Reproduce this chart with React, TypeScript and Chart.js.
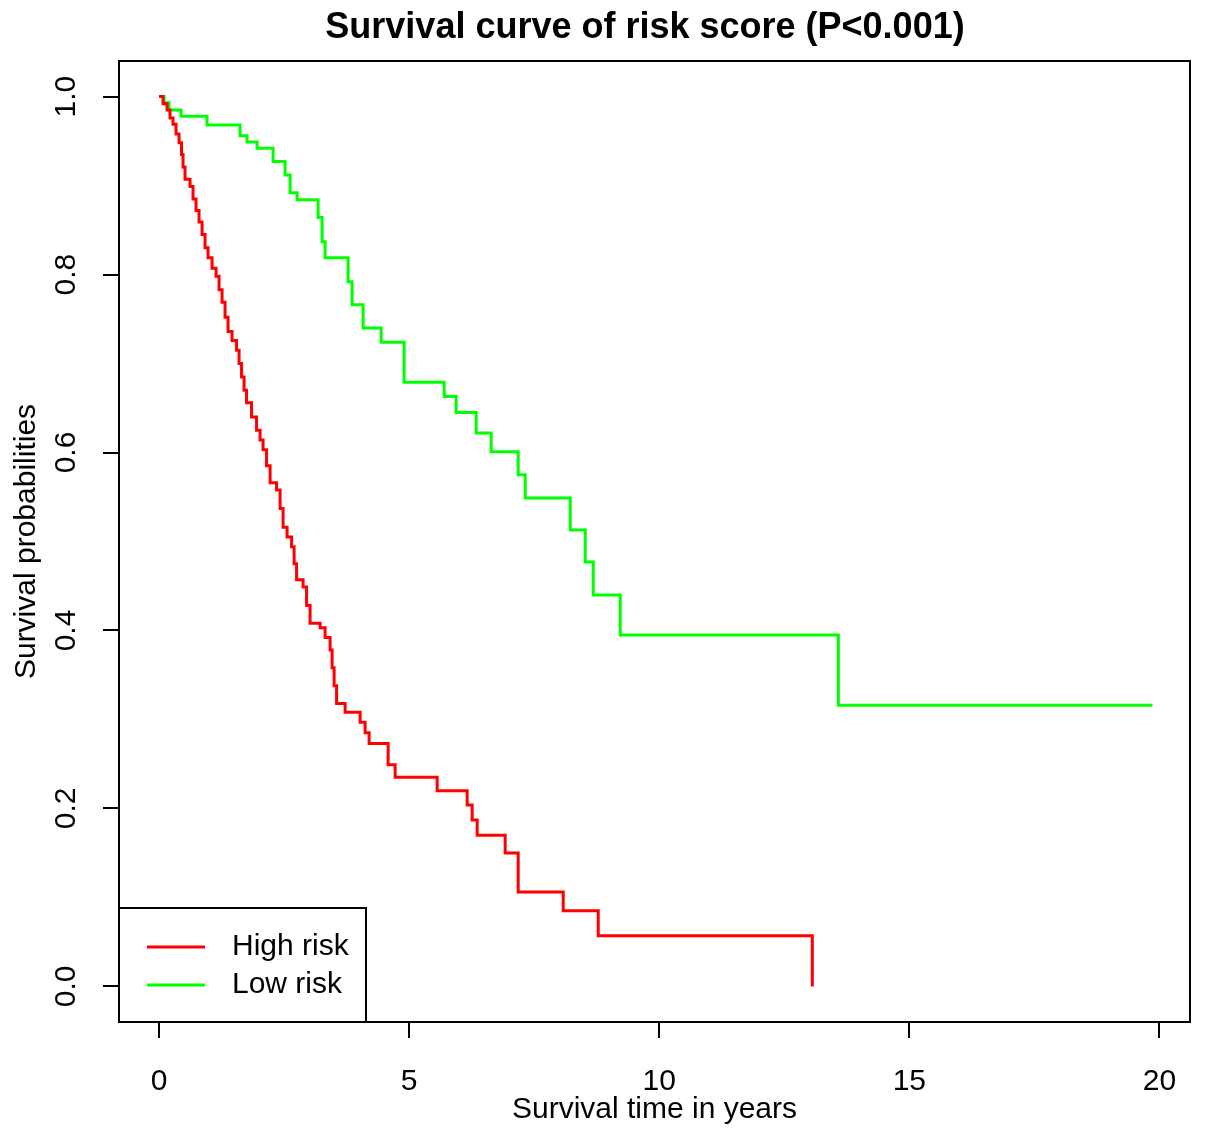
import React, { useEffect, useRef } from 'react';
import { Chart, registerables } from 'chart.js';

Chart.register(...registerables);

// ---- data ----
const highTimes = [
  0, 0.08, 0.16, 0.22, 0.28, 0.34, 0.4, 0.45, 0.48, 0.52, 0.62, 0.68, 0.74, 0.8, 0.86, 0.92, 0.98,
  1.06, 1.14, 1.2, 1.26, 1.32, 1.38, 1.46, 1.55, 1.6, 1.65, 1.7, 1.75, 1.85, 1.95, 2.02, 2.08,
  2.15, 2.22, 2.35, 2.42, 2.48, 2.56, 2.65, 2.7, 2.75, 2.88, 2.95, 3.02, 3.22, 3.32, 3.42, 3.46,
  3.5, 3.55, 3.72, 4.02, 4.12, 4.2, 4.58, 4.72, 5.56, 6.16, 6.26, 6.36, 6.92, 7.18, 8.08, 8.78, 13.06,
];
const highSurv = [
  1.0, 0.992, 0.985, 0.976, 0.969, 0.958, 0.948, 0.935, 0.921, 0.907, 0.899, 0.885, 0.872, 0.859, 0.845, 0.83, 0.819,
  0.807, 0.798, 0.783, 0.769, 0.752, 0.736, 0.726, 0.715, 0.7, 0.685, 0.67, 0.656, 0.64, 0.625, 0.614, 0.603,
  0.585, 0.566, 0.558, 0.537, 0.516, 0.505, 0.494, 0.475, 0.457, 0.449, 0.428, 0.408, 0.403, 0.392, 0.378, 0.358,
  0.338, 0.318, 0.308, 0.297, 0.285, 0.273, 0.249, 0.235, 0.22, 0.204, 0.187, 0.17, 0.15, 0.106, 0.085, 0.057, 0.0,
];
const lowTimes = [
  0, 0.1, 0.2, 0.44, 0.96, 1.62, 1.76, 1.96, 2.28, 2.52, 2.62, 2.76, 3.18, 3.26, 3.32, 3.78, 3.86,
  4.08, 4.44, 4.9, 5.7, 5.94, 6.34, 6.64, 7.18, 7.32, 8.22, 8.52, 8.68, 9.22, 13.58, 19.86,
];
const lowSurv = [
  1.0, 0.993, 0.985, 0.978, 0.968, 0.956, 0.949, 0.942, 0.927, 0.912, 0.892, 0.884, 0.864, 0.837, 0.819, 0.792, 0.766,
  0.74, 0.724, 0.679, 0.663, 0.645, 0.622, 0.601, 0.575, 0.549, 0.513, 0.477, 0.44, 0.395, 0.316, 0.316,
];
const seriesLabels = ['High risk', 'Low risk'];
const seriesColors = ['#ff0000', '#00ff00'];
const xTickValues = [0, 5, 10, 15, 20];
const xTickLabels = ['0', '5', '10', '15', '20'];
const yTickValues = [0, 0.2, 0.4, 0.6, 0.8, 1.0];
const yTickLabels = ['0.0', '0.2', '0.4', '0.6', '0.8', '1.0'];
const chartTitle = 'Survival curve of risk score (P<0.001)';
const xTitle = 'Survival time in years';
const yTitle = 'Survival probabilities';

const FONT = "'Liberation Sans', Arial, Helvetica, sans-serif";

const decorPlugin = {
  id: 'decor',
  afterDraw(chart: any) {
    const { ctx, chartArea } = chart;
    ctx.save();
    // plot frame
    ctx.strokeStyle = '#000';
    ctx.lineWidth = 2;
    ctx.strokeRect(chartArea.left, chartArea.top, chartArea.right - chartArea.left, chartArea.bottom - chartArea.top);
    // main title
    ctx.fillStyle = '#000';
    ctx.font = `bold 36px ${FONT}`;
    ctx.textAlign = 'center';
    ctx.textBaseline = 'middle';
    ctx.fillText(chartTitle, 645, 28);
    // legend box (bottom-left inside plot)
    const lx = chartArea.left;
    const ly = 908;
    const lw = 247;
    const lh = chartArea.bottom - ly;
    ctx.fillStyle = '#fff';
    ctx.fillRect(lx, ly, lw, lh);
    ctx.strokeStyle = '#000';
    ctx.lineWidth = 2;
    ctx.strokeRect(lx, ly, lw, lh);
    chart.data.datasets.forEach((ds: any, i: number) => {
      const y = 947 + i * 38;
      ctx.strokeStyle = ds.borderColor;
      ctx.lineWidth = 3;
      ctx.beginPath();
      ctx.moveTo(lx + 28, y);
      ctx.lineTo(lx + 86, y);
      ctx.stroke();
      ctx.fillStyle = '#000';
      ctx.font = `30px ${FONT}`;
      ctx.textAlign = 'left';
      ctx.textBaseline = 'middle';
      ctx.fillText(ds.label, lx + 113, y);
    });
    ctx.restore();
  },
};

export default function App() {
  const ref = useRef<HTMLCanvasElement | null>(null);

  useEffect(() => {
    if (!ref.current) return;
    const mk = (ts: number[], ss: number[]) => ts.map((t, i) => ({ x: t, y: ss[i] }));
    const chart = new Chart(ref.current, {
      type: 'line',
      data: {
        datasets: [
          {
            label: seriesLabels[0],
            data: mk(highTimes, highSurv),
            borderColor: seriesColors[0],
            backgroundColor: seriesColors[0],
            borderWidth: 3,
            pointRadius: 0,
            stepped: 'before',
            fill: false,
          },
          {
            label: seriesLabels[1],
            data: mk(lowTimes, lowSurv),
            borderColor: seriesColors[1],
            backgroundColor: seriesColors[1],
            borderWidth: 3,
            pointRadius: 0,
            stepped: 'before',
            fill: false,
          },
        ],
      },
      options: {
        responsive: false,
        animation: false,
        devicePixelRatio: 1,
        layout: { padding: { top: 61, right: 15, left: 0, bottom: 0 } },
        plugins: {
          legend: { display: false },
          title: { display: false },
          tooltip: { enabled: false },
        },
        scales: {
          x: {
            type: 'linear',
            min: -0.8,
            max: 20.61,
            afterBuildTicks: (s: any) => {
              s.ticks = xTickValues.map((v) => ({ value: v }));
            },
            afterFit: (s: any) => {
              s.height = 119;
            },
            ticks: {
              color: '#000',
              font: { family: FONT, size: 30 },
              padding: 26,
              minRotation: 0,
              maxRotation: 0,
              autoSkip: false,
              callback: (v: any) => xTickLabels[xTickValues.indexOf(Number(v))] ?? '',
            },
            grid: {
              display: true,
              drawOnChartArea: false,
              drawTicks: true,
              tickLength: 16,
              color: '#000',
              lineWidth: 2,
            },
            border: { display: false },
            title: {
              display: true,
              text: xTitle,
              color: '#000',
              font: { family: FONT, size: 30, lineHeight: 1.2 },
              padding: { top: 0, bottom: 13 },
            },
          },
          y: {
            type: 'linear',
            min: -0.04,
            max: 1.04,
            afterBuildTicks: (s: any) => {
              s.ticks = yTickValues.map((v) => ({ value: v }));
            },
            afterFit: (s: any) => {
              s.width = 119;
            },
            ticks: {
              color: '#000',
              font: { family: FONT, size: 30 },
              padding: 15,
              minRotation: 90,
              maxRotation: 90,
              crossAlign: 'center',
              autoSkip: false,
              callback: (v: any) => yTickLabels[yTickValues.indexOf(Number(v))] ?? '',
            },
            grid: {
              display: true,
              drawOnChartArea: false,
              drawTicks: true,
              tickLength: 16,
              color: '#000',
              lineWidth: 2,
            },
            border: { display: false },
            title: {
              display: true,
              text: yTitle,
              color: '#000',
              font: { family: FONT, size: 30, lineHeight: 1.2 },
              padding: { top: 9, bottom: 0 },
            },
          },
        },
      },
      plugins: [decorPlugin],
    } as any);
    return () => chart.destroy();
  }, []);

  return (
    <div style={{ position: 'absolute', left: 0, top: 0, width: 1205, height: 1141, background: '#fff' }}>
      <canvas ref={ref} width={1205} height={1141} style={{ width: 1205, height: 1141, display: 'block' }} />
    </div>
  );
}
